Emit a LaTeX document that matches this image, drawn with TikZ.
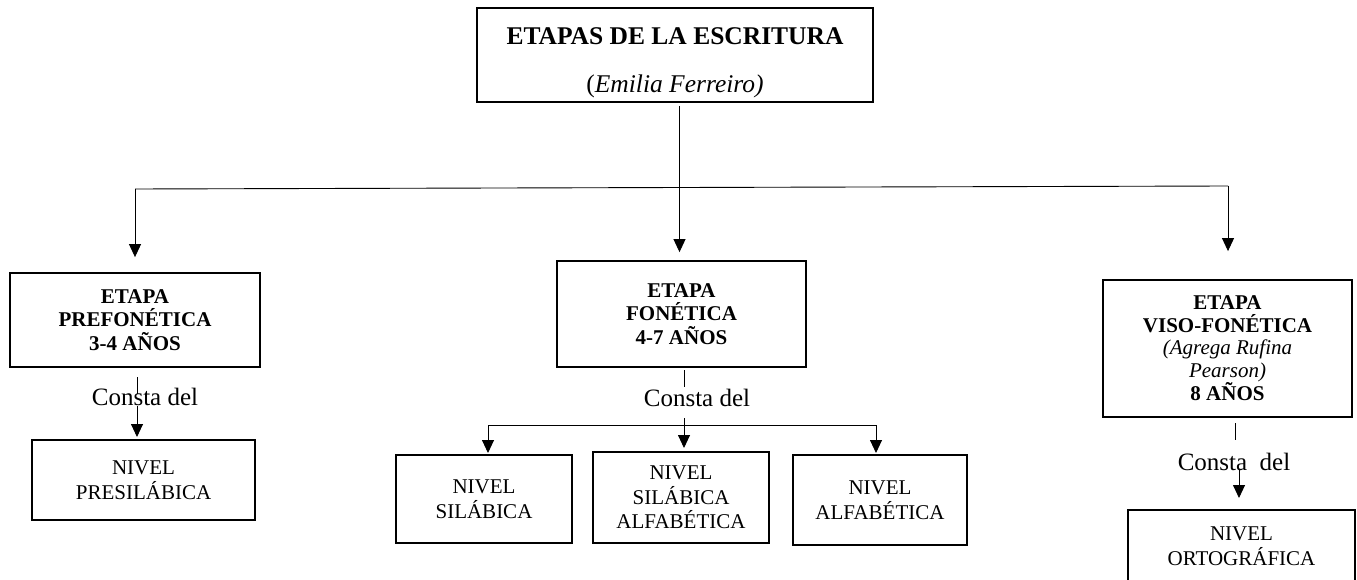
\documentclass[tikz,border=0pt]{standalone}
\usepackage{fontspec}
\setmainfont{Liberation Serif}
\usetikzlibrary{arrows.meta}
\begin{document}
\begin{tikzpicture}[x=1pt,y=-1pt,
  boxb/.style={draw, line width=1.8pt, inner sep=0pt, align=center,
    font=\fontsize{21}{23.5}\selectfont\bfseries},
  boxn/.style={draw, line width=1.8pt, inner sep=0pt, align=center,
    font=\fontsize{21}{24.5}\selectfont},
  lbl/.style={inner sep=0pt, font=\fontsize{25}{28}\selectfont},
  conn/.style={line width=0.9pt},
  arr/.style={line width=0.9pt, -{Triangle[width=12pt,length=13pt]}}]
\clip (0,0) rectangle (1357,580);
\fill[white] (0,0) rectangle (1357,580);
% top
\node[draw, line width=2.2pt, minimum width=396pt, minimum height=94pt, inner sep=0pt, align=center]
  (top) at (675,55) {{\fontsize{25.5}{30}\selectfont\bfseries\rule{0pt}{33pt}ETAPAS DE LA ESCRITURA}\\[29pt]
  {\fontsize{25.5}{30}\selectfont (\textit{Emilia Ferreiro)}}};
% stage boxes
\node[boxb, minimum width=250pt, minimum height=94pt] (pre) at (135,320)
  {ETAPA\\PREFONÉTICA\\3-4 AÑOS};
\node[boxb, minimum width=249pt, minimum height=106pt] (fon) at (681.5,314)
  {ETAPA\\FONÉTICA\\4-7 AÑOS};
\node[boxb, minimum width=249pt, minimum height=137pt,
  font=\fontsize{21}{22.5}\selectfont\bfseries] (viso) at (1227.5,348.5)
  {ETAPA\\VISO-FONÉTICA\\\mdseries\itshape (Agrega Rufina\\\mdseries\itshape Pearson)\\8 AÑOS};
% level boxes
\node[boxn, minimum width=223pt, minimum height=80pt] (presil) at (143.5,480)
  {NIVEL\\PRESILÁBICA};
\node[boxn, minimum width=176pt, minimum height=88pt] (sil) at (484,499)
  {NIVEL\\SILÁBICA};
\node[boxn, minimum width=176pt, minimum height=91pt] (silalf) at (681,497.5)
  {NIVEL\\SILÁBICA\\ALFABÉTICA};
\node[boxn, minimum width=174pt, minimum height=90pt] (alf) at (880,500)
  {NIVEL\\ALFABÉTICA};
\node[boxn, minimum width=227pt, minimum height=72pt] (orto) at (1241.5,546)
  {NIVEL\\ORTOGRÁFICA};
% consta labels
\node[lbl] (c1) at (145,397) {Consta del};
\node[lbl] (c2) at (697,398) {Consta del};
\node[lbl] (c3) at (1234,462) {Consta\ \ del};
% coordinates
\coordinate (t0) at (679.5,106);
\coordinate (hl) at (135,189);
\coordinate (hr) at (1228,186);
\coordinate (a1) at (137,377);
\coordinate (a2) at (137,394);
\coordinate (a3) at (137,406);
\coordinate (a4) at (137,437);
\coordinate (b1) at (684,370);
\coordinate (b2) at (684,387);
\coordinate (b3) at (684,418);
\coordinate (b4) at (684,448);
\coordinate (bl) at (488,425);
\coordinate (br) at (876,425);
\coordinate (d1) at (1235,423);
\coordinate (d2) at (1235,440);
\coordinate (d3) at (1239,470);
\coordinate (d4) at (1239,498);
% connectors
\draw[conn] (hl) -- (hr);
\draw[arr, shorten >=8pt] (t0) -- (t0 |- fon.north);
\draw[arr, shorten >=15pt] (hl) -- (pre.north);
\draw[arr, shorten >=28pt] (hr) -- (hr |- viso.north);
\draw[conn] (a1) -- (a2);
\draw[arr] (a3) -- (a4);
\draw[conn] (b1) -- (b2);
\draw[arr] (b3) -- (b4);
\draw[conn] (bl) -- (br);
\draw[arr] (bl) -- (bl |- 0,453);
\draw[arr] (br) -- (br |- 0,453);
\draw[conn] (d1) -- (d2);
\draw[arr] (d3) -- (d4);
\end{tikzpicture}
\end{document}
